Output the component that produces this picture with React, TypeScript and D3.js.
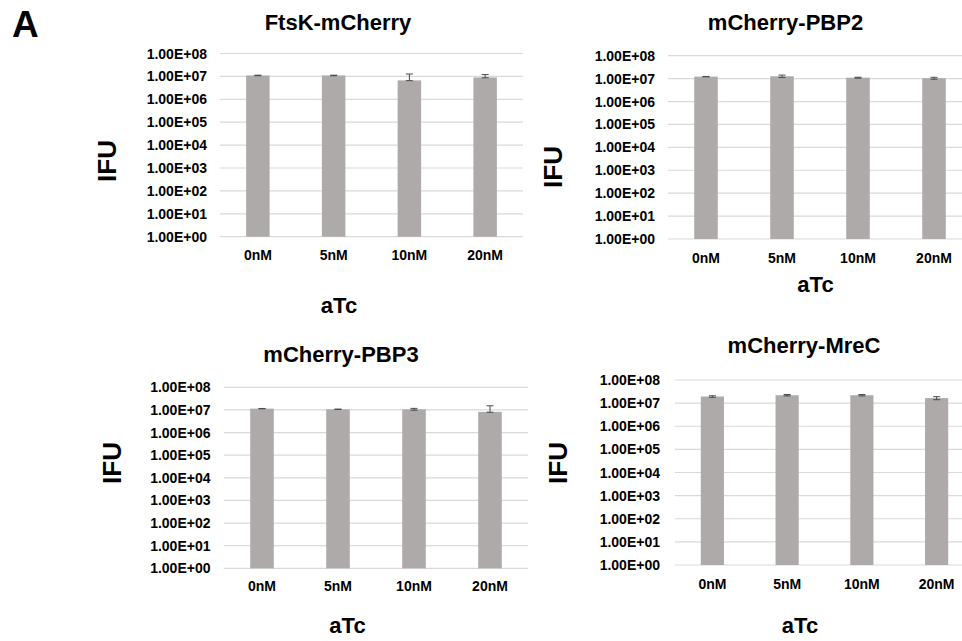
import React from "react";
import * as d3 from "d3";

const categories = ["0nM", "5nM", "10nM", "20nM"];
const tickValues = [1, 1e1, 1e2, 1e3, 1e4, 1e5, 1e6, 1e7, 1e8];
const tickLabels = ["1.00E+00", "1.00E+01", "1.00E+02", "1.00E+03", "1.00E+04", "1.00E+05", "1.00E+06", "1.00E+07", "1.00E+08"];

const titles = ["FtsK-mCherry", "mCherry-PBP2", "mCherry-PBP3", "mCherry-MreC"];

const ftsKValues = [1.1e7, 1.1e7, 6.7e6, 0.9e7];
const ftsKErrUp = [3e5, 3e5, 6e6, 3e6];
const ftsKErrDown = [3e5, 3e5, 2e5, 3e5];

const pbp2Values = [1.22e7, 1.27e7, 1.1e7, 1.04e7];
const pbp2ErrUp = [2e5, 1.5e6, 5e5, 1e6];
const pbp2ErrDown = [2e5, 1.5e6, 5e5, 1e6];

const pbp3Values = [1.14e7, 1.07e7, 1.07e7, 8.2e6];
const pbp3ErrUp = [2e5, 2e5, 1e6, 7e6];
const pbp3ErrDown = [2e5, 2e5, 1e6, 3e5];

const mreCValues = [1.93e7, 2.2e7, 2.2e7, 1.65e7];
const mreCErrUp = [1.5e6, 1.5e6, 1.5e6, 2.5e6];
const mreCErrDown = [1.5e6, 1.5e6, 1.5e6, 2.5e6];

const FONT = "'Liberation Sans', Arial, Helvetica, sans-serif";
const BAR = "#aeaaaa";
const GRID = "#d9d9d9";
const ERR = "#4a4a4a";

type Layout = {
  x0: number; x1: number; yTop: number; yBot: number;
  tickRight: number; titleX: number; titleY: number;
  xLabelY: number; aTcX: number; aTcY: number; ifuX: number; ifuY: number;
};

const layouts: Layout[] = [
  { x0: 220, x1: 523, yTop: 53.5, yBot: 236.7, tickRight: 207, titleX: 338, titleY: 30, xLabelY: 259.5, aTcX: 339, aTcY: 313, ifuX: 107, ifuY: 161 },
  { x0: 668, x1: 972, yTop: 55.7, yBot: 239, tickRight: 655, titleX: 785.5, titleY: 29.5, xLabelY: 262.5, aTcX: 815.5, aTcY: 291.5, ifuX: 553, ifuY: 167 },
  { x0: 224, x1: 528, yTop: 387.3, yBot: 568.3, tickRight: 210.5, titleX: 341, titleY: 362.3, xLabelY: 590.7, aTcX: 347.5, aTcY: 633.3, ifuX: 112, ifuY: 463 },
  { x0: 675, x1: 974, yTop: 380, yBot: 565, tickRight: 660, titleX: 804, titleY: 353.3, xLabelY: 588.7, aTcX: 800, aTcY: 633.3, ifuX: 558, ifuY: 463 },
];

const panelValues = [ftsKValues, pbp2Values, pbp3Values, mreCValues];
const panelErrUp = [ftsKErrUp, pbp2ErrUp, pbp3ErrUp, mreCErrUp];
const panelErrDown = [ftsKErrDown, pbp2ErrDown, pbp3ErrDown, mreCErrDown];

function Panel({ i }: { i: number }) {
  const L = layouts[i];
  const values = panelValues[i];
  const up = panelErrUp[i];
  const down = panelErrDown[i];
  const x = d3.scaleBand<string>().domain(categories).range([L.x0, L.x1]).paddingInner(0.69).paddingOuter(0.345);
  const y = d3.scaleLog().domain([1, 1e8]).range([L.yBot, L.yTop]);
  const cap = 3.5;
  return (
    <g>
      {tickValues.map((t, k) => (
        <g key={k}>
          <line x1={L.x0} x2={L.x1} y1={y(t)} y2={y(t)} stroke={GRID} strokeWidth={1.2} />
          <text x={L.tickRight} y={y(t)} dy="0.36em" textAnchor="end" fontSize={14} fontWeight="bold" fontFamily={FONT}>{tickLabels[k]}</text>
        </g>
      ))}
      {categories.map((c, k) => {
        const cx = (x(c) as number) + x.bandwidth() / 2;
        const v = values[k];
        const yT = y(v + up[k]);
        const yB = y(Math.max(1, v - down[k]));
        return (
          <g key={c}>
            <rect x={x(c)} y={y(v)} width={x.bandwidth()} height={L.yBot - y(v)} fill={BAR} />
            <line x1={cx} x2={cx} y1={yT} y2={yB} stroke={ERR} strokeWidth={1} />
            <line x1={cx - cap} x2={cx + cap} y1={yT} y2={yT} stroke={ERR} strokeWidth={1} />
            <line x1={cx - cap} x2={cx + cap} y1={yB} y2={yB} stroke={ERR} strokeWidth={1} />
            <text x={cx} y={L.xLabelY} textAnchor="middle" fontSize={14} fontWeight="bold" fontFamily={FONT}>{c}</text>
          </g>
        );
      })}
      <text x={L.titleX} y={L.titleY} textAnchor="middle" fontSize={22} fontWeight="bold" fontFamily={FONT}>{titles[i]}</text>
      <text x={L.aTcX} y={L.aTcY} textAnchor="middle" fontSize={22} fontWeight="bold" fontFamily={FONT}>aTc</text>
      <text transform={`translate(${L.ifuX},${L.ifuY}) rotate(-90)`} textAnchor="middle" dy="0.36em" fontSize={26} fontWeight="bold" fontFamily={FONT}>IFU</text>
    </g>
  );
}

export default function App() {
  return (
    <svg width={962} height={641} style={{ position: "absolute", left: 0, top: 0, background: "#fff" }}>
      <rect x={0} y={0} width={962} height={641} fill="#fff" />
      <text x={12} y={36.5} fontSize={37} fontWeight="bold" fontFamily={FONT}>A</text>
      {layouts.map((_, i) => <Panel key={i} i={i} />)}
    </svg>
  );
}
